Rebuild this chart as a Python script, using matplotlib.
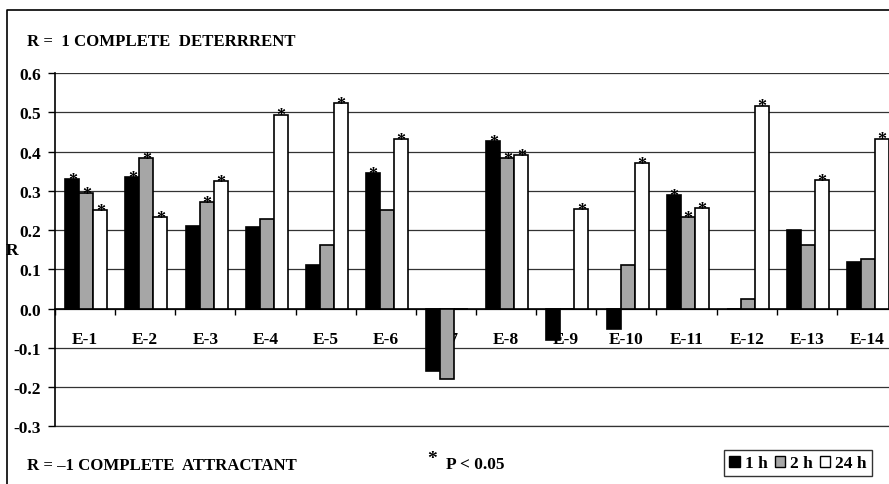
import numpy as np
import matplotlib.pyplot as plt
from matplotlib.lines import Line2D
from matplotlib.patches import Patch

plt.rcParams['font.family'] = 'Liberation Serif'
plt.rcParams['font.weight'] = 'bold'

# data
labels = ["E-1", "E-2", "E-3", "E-4", "E-5", "E-6", "E-7",
          "E-8", "E-9", "E-10", "E-11", "E-12", "E-13", "E-14"]
r_1h = [0.330, 0.335, 0.211, 0.208, 0.110, 0.346, -0.158,
        0.426, -0.081, -0.051, 0.288, 0.0, 0.199, 0.119]
r_2h = [0.294, 0.384, 0.272, 0.228, 0.162, 0.251, -0.180,
        0.384, 0.0, 0.111, 0.234, 0.024, 0.161, 0.127]
r_24h = [0.251, 0.234, 0.325, 0.494, 0.524, 0.431, 0.0,
         0.392, 0.254, 0.371, 0.257, 0.517, 0.327, 0.433]
# significance (P < 0.05)
sig_1h = [1, 1, 0, 0, 0, 1, 0, 1, 0, 0, 1, 0, 0, 0]
sig_2h = [1, 1, 1, 0, 0, 0, 0, 1, 0, 0, 1, 0, 0, 0]
sig_24h = [1, 1, 1, 1, 1, 1, 0, 1, 1, 1, 1, 1, 1, 1]

series = [("1 h", r_1h, sig_1h, "black"),
          ("2 h", r_2h, sig_2h, "#a6a6a6"),
          ("24 h", r_24h, sig_24h, "white")]

FS = 12.5
W, H = 889, 485
fig = plt.figure(figsize=(W / 100, H / 100), dpi=100)
ax = fig.add_axes([55 / W, (H - 427.3) / H, 842 / W, 353.3 / H])

x = np.arange(len(labels)) + 0.52
bw = 0.233
for k, (name, vals, sig, col) in enumerate(series):
    xs = x + (k - 1) * bw
    ax.bar(xs, vals, bw, color=col, edgecolor="black", linewidth=1.2, zorder=3)
    for xi, v, s in zip(xs, vals, sig):
        if s:
            ax.annotate("*", (xi, v), xytext=(0, -1), textcoords="offset points",
                        ha="center", va="center", fontsize=13, zorder=4)

ax.set_xlim(0, len(labels))
ax.set_ylim(-0.3, 0.6)
ax.set_yticks(np.arange(-0.3, 0.61, 0.1))
ax.yaxis.set_major_formatter(plt.FormatStrFormatter("%.1f"))
ax.grid(axis="y", color="#333333", linewidth=0.9)
ax.axhline(-0.3, color="#333333", linewidth=0.9, clip_on=False, zorder=0.6)
ax.set_axisbelow(True)

ax.spines["bottom"].set_position(("data", 0))
ax.spines["top"].set_visible(False)
ax.spines["right"].set_visible(False)
ax.spines["left"].set_linewidth(1.2)
ax.spines["bottom"].set_linewidth(1.2)

ax.set_xticks(np.arange(len(labels) + 1))
ax.set_xticklabels([])
ax.set_xticks(np.arange(len(labels)) + 0.5, minor=True)
ax.set_xticklabels(labels, minor=True)
ax.tick_params(axis="x", which="major", direction="out", length=4, width=1)
ax.tick_params(axis="x", which="minor", length=0, pad=16, labelsize=FS)
ax.tick_params(axis="y", direction="out", length=5, width=1, labelsize=FS, pad=5)

ax.set_ylabel("R", rotation=0, fontsize=FS, fontweight="bold", va="center")
ax.yaxis.set_label_coords(-43 / 842, 0.5)

fig.text(27 / W, 1 - 42 / H, "R =  1 COMPLETE  DETERRRENT", fontsize=12.1, va="center")
fig.text(27 / W, 1 - 466 / H, "R = \u20131 COMPLETE  ATTRACTANT", fontsize=12.1, va="center")
fig.text(427 / W, 1 - 460 / H, "*", fontsize=14, va="center")
fig.text(446 / W, 1 - 465 / H, "P < 0.05", fontsize=FS, va="center")

handles = [Patch(facecolor=c, edgecolor="black", linewidth=1) for _, _, _, c in series]
leg = fig.legend(handles, [s[0] for s in series], loc="upper left",
                 bbox_to_anchor=(724 / W, 1 - 451 / H), ncol=3, fontsize=FS,
                 handlelength=0.6, handleheight=0.6, handletextpad=0.3,
                 columnspacing=0.4, borderpad=0.3, fancybox=False,
                 borderaxespad=0)
leg.get_frame().set_edgecolor("black")
leg.get_frame().set_linewidth(1)

# outer chart frame (cut off at right and bottom)
fig.add_artist(Line2D([7 / W, 7 / W, 1.0], [0, 1 - 11 / H, 1 - 11 / H],
                      color="black", linewidth=1.2))

fig.savefig("out.png", dpi=100)
